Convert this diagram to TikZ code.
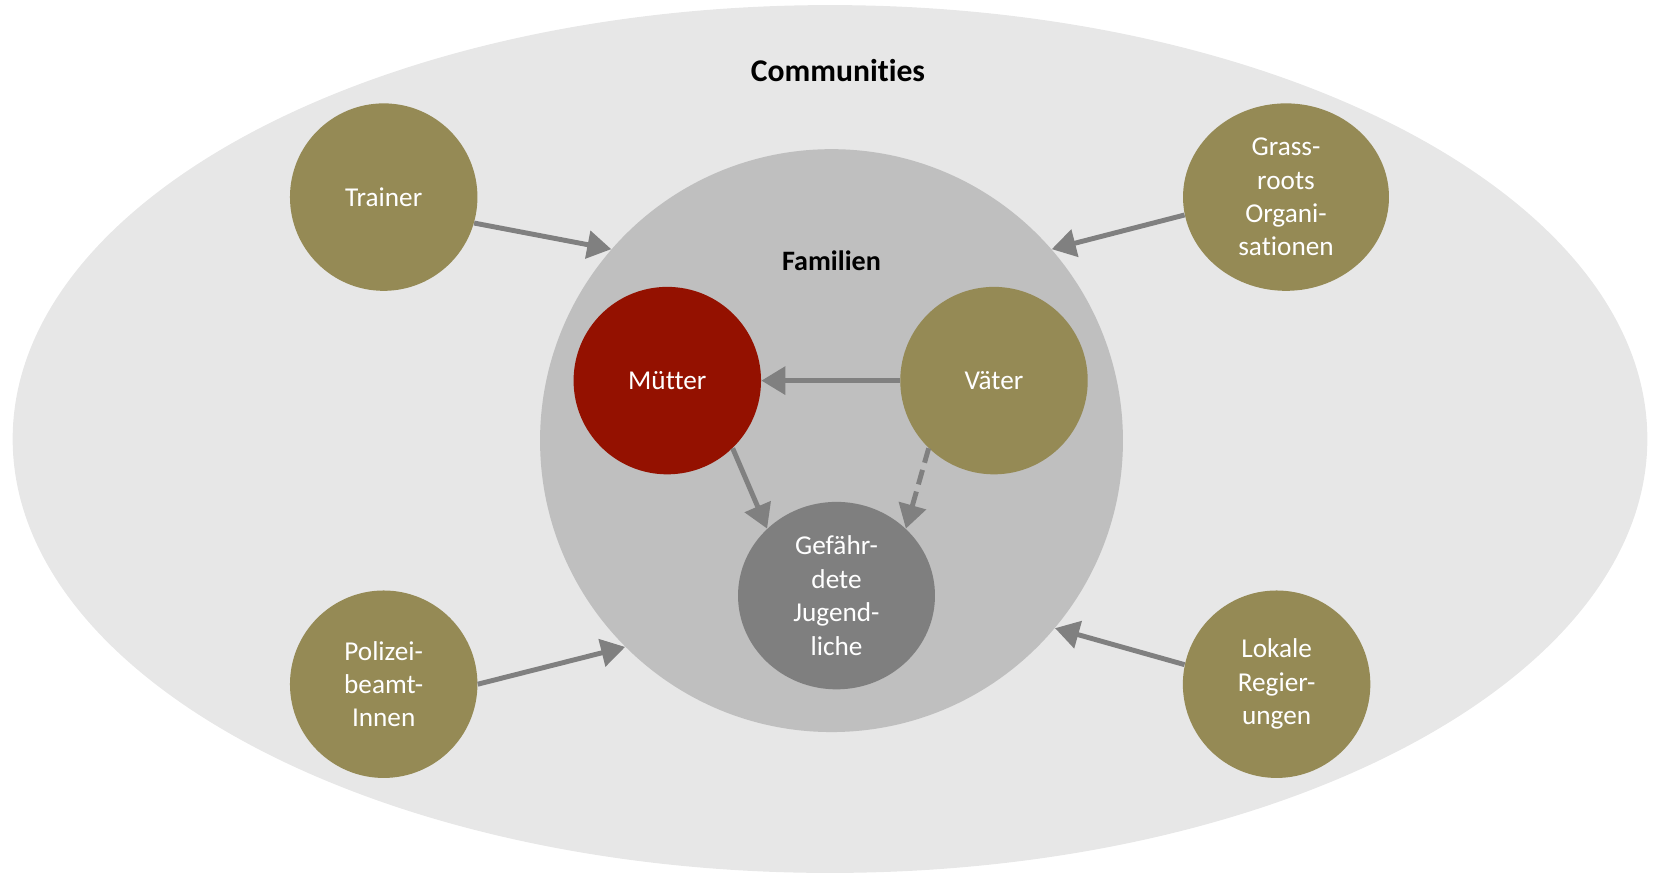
\documentclass[tikz,border=0pt]{standalone}
\usepackage{fontspec}
\setmainfont{Carlito}[Ligatures=NoCommon]
\usetikzlibrary{arrows.meta,shapes.geometric}
\definecolor{commgray}{HTML}{E7E7E7}
\definecolor{famgray}{HTML}{BFBFBF}
\definecolor{olive}{HTML}{958A55}
\definecolor{darkred}{HTML}{941100}
\definecolor{youthgray}{HTML}{7F7F7F}
\definecolor{arrowgray}{HTML}{808080}
\begin{document}
\begin{tikzpicture}[x=0.02cm,y=-0.02cm,
    role node/.style={ellipse,fill=olive,text=white,align=center,inner sep=0pt,minimum width=3.75cm,minimum height=3.75cm,font=\fontsize{15.5}{19}\selectfont},
    title/.style={font=\fontsize{16}{19}\selectfont\bfseries},
    arrow/.style={draw=arrowgray,line width=2.8pt,-{Triangle[length=0.48cm,width=0.55cm]}}]
    \useasboundingbox (0,0) rectangle (1653,873);
    \node[ellipse,fill=commgray,minimum width=32.7cm,minimum height=17.36cm] at (830,439) (communities) {};
    \node[circle,fill=famgray,minimum size=11.66cm] at (831.5,440.6) (familien) {};
    \node[title,font=\fontsize{18}{21}\selectfont\bfseries] at (838,71) {Communities};
    \node[title] at (831.5,261) {Familien};

    \node[role node] at (383.7,197.1) (trainer) {Trainer};
    \node[role node,minimum width=4.12cm] at (1286,197.1) (grassroots) {Grass-\\roots\\Organi-\\sationen};
    \node[role node] at (383.7,684.2) (polizei) {Polizei-\\beamt-\\Innen};
    \node[role node] at (1276.6,684.2) (lokale) {Lokale\\Regier-\\ungen};
    \node[role node,fill=darkred] at (667.3,380.6) (muetter) {Mütter};
    \node[role node] at (994,380.6) (vaeter) {Väter};
    \node[role node,fill=youthgray,minimum width=3.94cm] at (836.5,595.6) (jugend) {Gefähr-\\dete\\Jugend-\\liche};

    \draw[arrow] (trainer.-16) -- (familien.139);
    \draw[arrow] (grassroots.190) -- (familien.41);
    \draw[arrow] (polizei.0) -- (familien.225);
    \draw[arrow] (lokale.168) -- (familien.320);
    \draw[arrow] (vaeter) -- (muetter);
    \draw[arrow] (muetter.-46) -- (jugend.136);
    \draw[arrow,dash pattern=on 0.3cm off 0.15cm] (vaeter.226) -- (jugend.44);
\end{tikzpicture}
\end{document}
